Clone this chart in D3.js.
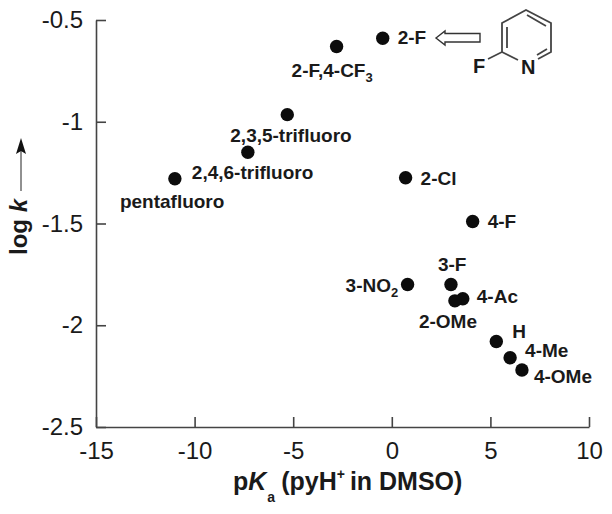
<!DOCTYPE html>
<html>
<head>
<meta charset="utf-8">
<script src="https://cdn.jsdelivr.net/npm/d3@7"></script>
<style>
body { margin: 0; background: #fff; }
text { font-family: "Liberation Sans", Arial, sans-serif; fill: #1a1a1a; }
.tick text { font-size: 24px; }
.lab { font-size: 19px; font-weight: bold; }
.title { font-size: 25px; font-weight: bold; }
.ytitle { font-size: 24px; font-weight: bold; }
.atom { font-size: 20px; font-weight: bold; }
</style>
</head>
<body>
<svg id="mainsvg" width="612" height="514"></svg>
<script>
// values
const names = ['2-F', '2-F,4-CF|3', '2,3,5-trifluoro', '2,4,6-trifluoro', 'pentafluoro', '2-Cl', '4-F', '3-NO|2', '3-F', '4-Ac', '2-OMe', 'H', '4-Me', '4-OMe'];
const pKa = [-0.46, -2.8, -5.3, -7.3, -11, 0.7, 4.1, 0.8, 3, 3.6, 3.2, 5.3, 6, 6.6];
const logK = [-0.59, -0.63, -0.965, -1.15, -1.28, -1.275, -1.49, -1.8, -1.8, -1.87, -1.88, -2.08, -2.16, -2.22];
const xTicks = [-15, -10, -5, 0, 5, 10];
const yTicks = [-2.5, -2, -1.5, -1, -0.5];

// label position relative to its point [dx, dy] (text start, baseline)
const labelOffsets = [[15, 6], [-45, 31], [-57, 27], [-56, 27], [-55, 29], [15, 7], [15, 7], [-62, 7], [-13, -14], [14, 4], [-36, 27], [16, -4], [15, -1], [12, 13]];

const svg = d3.select('#mainsvg');
const xScale = d3.scaleLinear().domain([-15, 10]).range([96, 589]);
const yScale = d3.scaleLinear().domain([-2.5, -0.5]).range([427, 20]);
const axisColor = '#444';

// axes, ticks point into the plot
const xAxis = svg.append('g').attr('transform', `translate(0,${yScale(-2.5)})`)
    .call(d3.axisTop(xScale).tickValues(xTicks).tickSize(10).tickFormat(d => d).tickSizeOuter(0));
xAxis.selectAll('text').attr('y', 15).attr('dy', '0.71em').attr('text-anchor', 'middle');

const yAxis = svg.append('g').attr('transform', `translate(${xScale(-15)},0)`)
    .call(d3.axisRight(yScale).tickValues(yTicks).tickSize(10).tickFormat(d => d).tickSizeOuter(0));
yAxis.selectAll('text').attr('x', -13).attr('text-anchor', 'end');

svg.selectAll('.domain, .tick line').attr('stroke', axisColor).attr('stroke-width', 1.6);

// points
svg.selectAll('circle').data(names).enter().append('circle')
    .attr('cx', (d, i) => xScale(pKa[i]))
    .attr('cy', (d, i) => yScale(logK[i]))
    .attr('r', 6.7)
    .attr('fill', '#0c0c0c');

// labels, "|" marks a subscript tail
names.forEach((name, i) => {
    const parts = name.split('|');
    const t = svg.append('text').attr('class', 'lab')
        .attr('x', xScale(pKa[i]) + labelOffsets[i][0])
        .attr('y', yScale(logK[i]) + labelOffsets[i][1]);
    t.append('tspan').text(parts[0]);
    if (parts[1]) t.append('tspan').attr('dy', 5).style('font-size', '13px').text(parts[1]);
});

// x title
const xTitle = svg.append('text').attr('class', 'title').attr('x', 233).attr('y', 490);
xTitle.append('tspan').text('p');
xTitle.append('tspan').style('font-style', 'italic').text('K');
xTitle.append('tspan').attr('dy', 12).attr('dx', 1).style('font-size', '14px').text('a');
xTitle.append('tspan').attr('dy', -12).attr('dx', 6).text('(pyH');
xTitle.append('tspan').attr('dy', -11).style('font-size', '14px').text('+');
xTitle.append('tspan').attr('dy', 11).attr('dx', 5).text('in DMSO)');

// y title with arrow
const yTitle = svg.append('text').attr('class', 'ytitle')
    .attr('transform', 'translate(27,255) rotate(-90)');
yTitle.append('tspan').text('log ');
yTitle.append('tspan').style('font-style', 'italic').text('k');
svg.append('line').attr('x1', 21).attr('x2', 21).attr('y1', 191).attr('y2', 145)
    .attr('stroke', '#222').attr('stroke-width', 1);
svg.append('path').attr('d', 'M21,138 L26,154 L21,151 L16,154 Z').attr('fill', '#111');

// hollow arrow from 2-F to the structure
svg.append('path').attr('d', 'M436,38 L445,31 L445,33.5 L480,33.5 L480,42 L445,42 L445,45 Z')
    .attr('fill', '#fff').attr('stroke', '#333').attr('stroke-width', 1.4);

// 2-fluoropyridine
const mol = svg.append('g').attr('fill', 'none').attr('stroke', '#444').attr('stroke-width', 1.8);
mol.append('path').attr('d', 'M518,60 L502,52 L502,23 L526,10 L551,23 L551,52 L538,59');
mol.append('path').attr('d', 'M507,48 L507,27 M527,15 L546,26 M547,49 L537,55');
mol.append('path').attr('d', 'M502,52 L488,59');
svg.append('text').attr('class', 'atom').attr('x', 473).attr('y', 73).text('F');
svg.append('text').attr('class', 'atom').attr('x', 521).attr('y', 74).text('N');
</script>
</body>
</html>
